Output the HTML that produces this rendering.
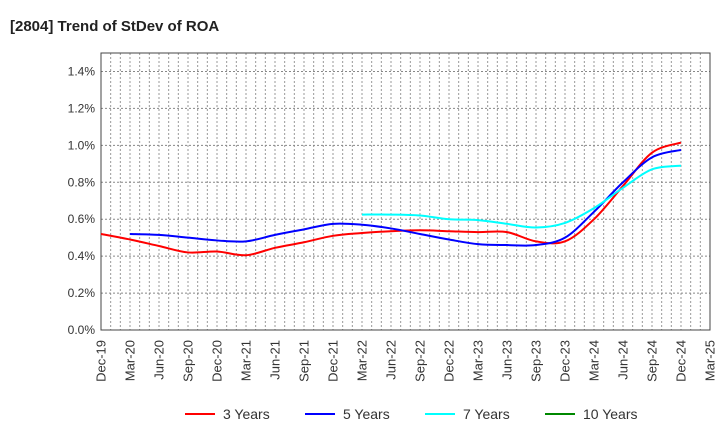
<!DOCTYPE html>
<html><head><meta charset="utf-8"><style>
body{margin:0;background:#fff;font-family:"Liberation Sans",sans-serif;}
</style></head><body>
<svg id="c" width="720" height="440" xmlns="http://www.w3.org/2000/svg">
<text x="10" y="31" font-size="15" font-weight="bold" fill="#222">[2804]  Trend of StDev of ROA</text>
<g id="grid"></g><g id="axes"></g><g id="series"></g><g id="legend"></g>
</svg>
<script>
const xLabels=["Dec-19","Mar-20","Jun-20","Sep-20","Dec-20","Mar-21","Jun-21","Sep-21","Dec-21","Mar-22","Jun-22","Sep-22","Dec-22","Mar-23","Jun-23","Sep-23","Dec-23","Mar-24","Jun-24","Sep-24","Dec-24","Mar-25"];
const yTicks=[0,0.2,0.4,0.6,0.8,1.0,1.2,1.4];
const s3=[0.52,0.49,0.455,0.42,0.425,0.405,0.445,0.475,0.51,0.525,0.535,0.54,0.535,0.53,0.53,0.48,0.48,0.60,0.78,0.96,1.015];
const s5=[null,0.52,0.515,0.50,0.485,0.48,0.515,0.545,0.575,0.57,0.55,0.52,0.49,0.465,0.46,0.46,0.50,0.64,0.80,0.935,0.975];
const s7=[null,null,null,null,null,null,null,null,null,0.625,0.625,0.62,0.60,0.595,0.575,0.555,0.58,0.66,0.77,0.87,0.89];
const s10=[];
const L=101,R=710,T=53,B=330,yMax=1.5;
const X=i=>L+(R-L)*i/(xLabels.length-1);
const Y=v=>B-(B-T)*v/yMax;
const ns="http://www.w3.org/2000/svg";
function mk(t,a,p){const e=document.createElementNS(ns,t);for(const k in a)e.setAttribute(k,a[k]);p.appendChild(e);return e;}
const grid=document.getElementById('grid'),axes=document.getElementById('axes'),ser=document.getElementById('series'),leg=document.getElementById('legend');
for(let m=1;m<(xLabels.length-1)*3;m++){const x=L+(R-L)*m/((xLabels.length-1)*3);
 const l=mk('line',{x1:x,x2:x,y1:T,y2:B,stroke:'#999','stroke-dasharray':'2,2','stroke-width':1},grid);
 }
yTicks.forEach(v=>{const y=Y(v);
 if(v>0){const l=mk('line',{x1:L,x2:R,y1:y,y2:y,stroke:'#888','stroke-dasharray':'2,2','stroke-width':1},grid);
 }
 const t=mk('text',{x:L-6,y:y+4,'font-size':12,'text-anchor':'end',fill:'#333'},axes);t.textContent=v.toFixed(1)+'%';
 });
const fr=mk('rect',{x:L,y:T,width:R-L,height:B-T,fill:'none',stroke:'#444','stroke-width':1},axes);

xLabels.forEach((s,i)=>{const x=X(i);const t=mk('text',{x:0,y:0,'font-size':13,'text-anchor':'end',fill:'#333',transform:`translate(${x+4.5},${B+10}) rotate(-90)`},axes);t.textContent=s;
 });
function path(d,col,name){const pts=[];d.forEach((v,i)=>{if(v!=null)pts.push([X(i),Y(v)]);});if(pts.length<2)return;
 let s=`M${pts[0][0]},${pts[0][1]}`;
 for(let i=0;i<pts.length-1;i++){const p0=pts[Math.max(0,i-1)],p1=pts[i],p2=pts[i+1],p3=pts[Math.min(pts.length-1,i+2)];
  const c1=[p1[0]+(p2[0]-p0[0])/6,p1[1]+(p2[1]-p0[1])/6],c2=[p2[0]-(p3[0]-p1[0])/6,p2[1]-(p3[1]-p1[1])/6];
  s+=`C${c1[0]},${c1[1]} ${c2[0]},${c2[1]} ${p2[0]},${p2[1]}`;}
 const p=mk('path',{d:s,fill:'none',stroke:col,'stroke-width':2},ser);
 }
path(s3,'#f00','line-3-years');path(s5,'#00f','line-5-years');path(s7,'#0ff','line-7-years');path(s10,'#080','line-10-years');
[["3 Years","#f00",185],["5 Years","#00f",305],["7 Years","#0ff",425],["10 Years","#080",545]].forEach(([n,c,x])=>{
 const g=mk('g',{},leg);
 mk('line',{x1:x,x2:x+30,y1:414,y2:414,stroke:c,'stroke-width':2},g);
 const t=mk('text',{x:x+38,y:419,'font-size':14,fill:'#333'},g);t.textContent=n;});
</script>
</body></html>
